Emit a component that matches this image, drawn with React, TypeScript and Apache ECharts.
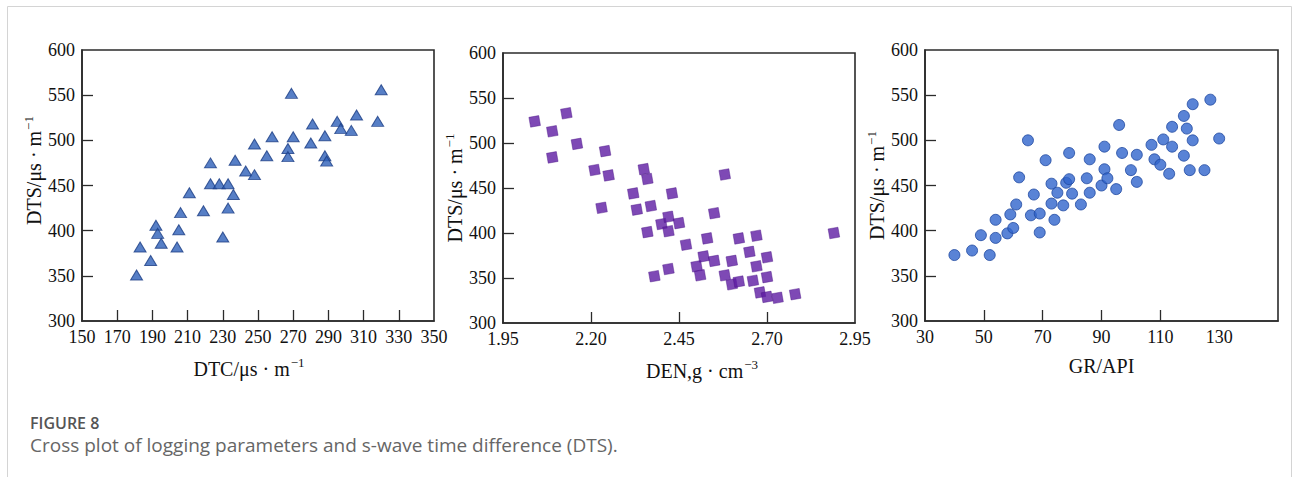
import React, { useEffect, useRef } from "react";
import * as echarts from "echarts";

// ---------- data ----------
const dtcX = [181, 183, 189, 192, 193, 195, 204, 205, 206, 211, 219, 223, 223, 228, 230, 233, 236, 233, 237, 243, 248, 248, 255, 258, 267, 267, 269, 270, 280, 281, 288, 288, 289, 295, 297, 303, 306, 318, 320];
const dtcY = [351, 382, 367, 406, 397, 386, 382, 401, 420, 442, 422, 475, 452, 452, 393, 452, 440, 425, 478, 466, 496, 462, 483, 504, 491, 482, 552, 504, 497, 518, 505, 483, 477, 521, 513, 511, 528, 521, 556];

const denX = [2.04, 2.09, 2.09, 2.13, 2.16, 2.24, 2.21, 2.25, 2.23, 2.32, 2.33, 2.35, 2.36, 2.37, 2.36, 2.38, 2.40, 2.42, 2.42, 2.43, 2.45, 2.42, 2.47, 2.50, 2.51, 2.52, 2.55, 2.53, 2.55, 2.58, 2.58, 2.60, 2.60, 2.62, 2.62, 2.65, 2.66, 2.67, 2.67, 2.68, 2.70, 2.70, 2.70, 2.73, 2.78, 2.89];
const denY = [524, 513, 484, 533, 499, 491, 470, 464, 428, 444, 426, 471, 460, 430, 401, 352, 410, 418, 402, 444, 411, 360, 387, 363, 353, 374, 369, 394, 422, 465, 353, 343, 369, 394, 346, 379, 347, 397, 363, 334, 329, 373, 351, 328, 332, 400];

const grX = [40, 46, 49, 52, 54, 54, 58, 59, 60, 61, 62, 65, 66, 67, 69, 69, 71, 73, 73, 74, 75, 77, 78, 79, 79, 80, 83, 85, 86, 86, 90, 91, 91, 92, 95, 96, 97, 100, 102, 102, 107, 108, 110, 111, 113, 114, 114, 118, 118, 119, 120, 121, 121, 125, 127, 130];
const grY = [373, 378, 395, 373, 392, 412, 397, 418, 403, 429, 459, 500, 417, 440, 419, 398, 478, 452, 430, 412, 442, 428, 453, 486, 457, 441, 429, 458, 479, 442, 450, 468, 493, 458, 446, 517, 486, 467, 454, 484, 495, 479, 473, 501, 463, 493, 515, 483, 527, 513, 467, 500, 540, 467, 545, 502];

const dtsTicks = [300, 350, 400, 450, 500, 550, 600];
const dtcTicks = [150, 170, 190, 210, 230, 250, 270, 290, 310, 330, 350];
const denTicks = [1.95, 2.2, 2.45, 2.7, 2.95];
const grTicks = [30, 50, 70, 90, 110, 130];

const zip = (xs: number[], ys: number[]) => xs.map((x, i) => [x, ys[i]]);

const SERIF = "'Liberation Serif', 'Times New Roman', serif";
const SANS = "'Open Sans', 'Noto Sans', sans-serif";
const AXIS = "#2b2b2b";

const richTitle = {
  t: { fontFamily: SERIF, fontSize: 20, color: "#111" },
  s: { fontFamily: SERIF, fontSize: 13, color: "#111", padding: [0, 0, 12, 1] },
};

function makeX(idx: number, min: number, max: number, labels: number[], name: string, pad: number[], fmt?: (v: number) => string) {
  return {
    type: "value",
    gridIndex: idx,
    min,
    max,
    name,
    nameLocation: "middle",
    nameGap: 35,
    nameTextStyle: { fontFamily: SERIF, fontSize: 20, color: "#111", rich: richTitle, padding: pad },
    axisLine: { show: true, onZero: false, lineStyle: { color: AXIS, width: 1.6 } },
    axisTick: {
      show: true,
      inside: true,
      length: 11,
      customValues: labels.slice(1, -1),
      lineStyle: { color: AXIS, width: 1.3 },
    },
    axisLabel: {
      customValues: labels,
      margin: 7,
      fontFamily: SERIF,
      fontSize: 18,
      color: "#111",
      formatter: fmt || ((v: number) => String(v)),
    },
    splitLine: { show: false },
  };
}

function makeY(idx: number, pad: number[]) {
  return {
    type: "value",
    gridIndex: idx,
    min: 300,
    max: 600,
    interval: 50,
    name: "{t|DTS/μs · m}{s|−1}",
    nameLocation: "middle",
    nameGap: 35,
    nameTextStyle: { fontFamily: SERIF, fontSize: 20, color: "#111", rich: richTitle, padding: pad },
    axisLine: { show: true, onZero: false, lineStyle: { color: AXIS, width: 1.6 } },
    axisTick: {
      show: true,
      inside: true,
      length: 11,
      customValues: dtsTicks.slice(1, -1),
      lineStyle: { color: AXIS, width: 1.3 },
    },
    axisLabel: {
      customValues: dtsTicks,
      margin: 7,
      fontFamily: SERIF,
      fontSize: 18,
      color: "#111",
    },
    splitLine: { show: false },
  };
}

export default function App() {
  const ref = useRef<HTMLDivElement>(null);
  useEffect(() => {
    if (!ref.current) return;
    const chart = echarts.init(ref.current, undefined, { renderer: "svg" });
    const gridBase = { show: true, borderColor: AXIS, borderWidth: 1.6, backgroundColor: "transparent", containLabel: false };
    chart.setOption({
      animation: false,
      backgroundColor: "#fff",
      grid: [
        { ...gridBase, left: 82, top: 50, width: 352, height: 271 },
        { ...gridBase, left: 503, top: 53, width: 352, height: 270 },
        { ...gridBase, left: 925, top: 50, width: 353, height: 271 },
      ],
      xAxis: [
        makeX(0, 150, 350, dtcTicks, "{t|DTC/μs · m}{s|−1}", [0, 18, 0, 0]),
        makeX(1, 1.95, 2.95, denTicks, "{t|DEN,g · cm}{s|−3}", [0, 0, 0, 46], (v: number) => v.toFixed(2)),
        makeX(2, 30, 150, grTicks, "{t|GR/API}", [0, 0, 0, 0]),
      ],
      yAxis: [makeY(0, [0, 0, 0, 30]), makeY(1, [0, 0, 0, 0]), makeY(2, [0, 0, 0, 0])],
      series: [
        {
          type: "scatter",
          xAxisIndex: 0,
          yAxisIndex: 0,
          symbol: "triangle",
          symbolSize: [12, 10],
          itemStyle: { color: "#2d5fb8", borderColor: "#1b3d85", borderWidth: 1 },
          data: zip(dtcX, dtcY),
        },
        {
          type: "scatter",
          xAxisIndex: 1,
          yAxisIndex: 1,
          symbol: "rect",
          symbolSize: 10,
          symbolRotate: 10,
          itemStyle: { color: "#5e1ca3", borderColor: "#4a1585", borderWidth: 0.5 },
          data: zip(denX, denY),
        },
        {
          type: "scatter",
          xAxisIndex: 2,
          yAxisIndex: 2,
          symbol: "circle",
          symbolSize: 11,
          itemStyle: { color: "#3064cc", borderColor: "#1f48a0", borderWidth: 1 },
          data: zip(grX, grY),
        },
      ],
      graphic: [
        {
          type: "rect",
          shape: { x: 7.5, y: 6.5, width: 1284, height: 500 },
          style: { fill: "none", stroke: "#d4d4d4", lineWidth: 1 },
          silent: true,
          z: -1,
        },
        {
          type: "text",
          left: 30,
          top: 414,
          style: { text: "FIGURE 8", fontFamily: SANS, fontSize: 16, lineHeight: 17, fontWeight: 600, fill: "#555" },
        },
        {
          type: "text",
          left: 30,
          top: 435,
          style: {
            text: "Cross plot of logging parameters and s-wave time difference (DTS).",
            fontFamily: SANS,
            fontSize: 19,
            lineHeight: 20,
            fill: "#666",
          },
        },
      ],
    });
    return () => chart.dispose();
  }, []);
  return <div ref={ref} style={{ position: "absolute", left: 0, top: 0, width: 1293, height: 477 }} />;
}
